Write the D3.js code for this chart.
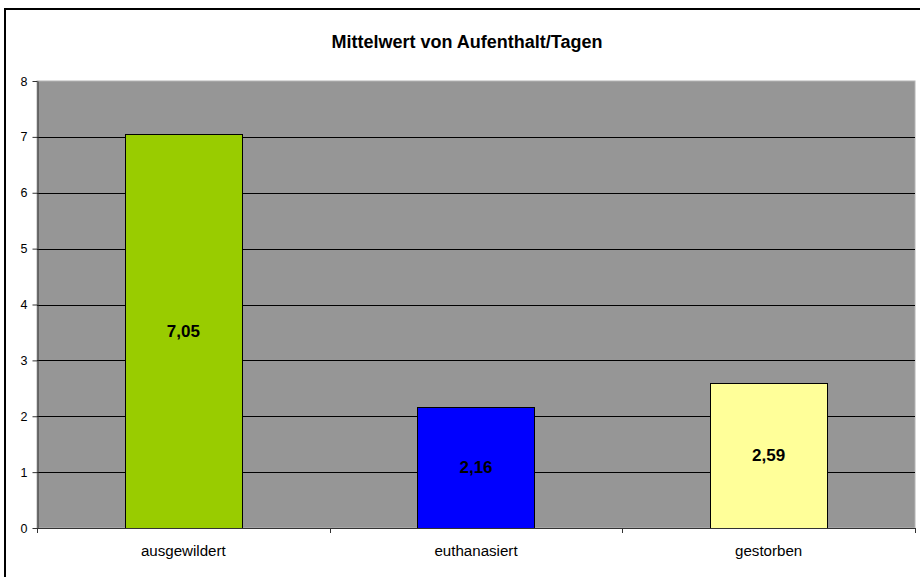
<!DOCTYPE html>
<html><head><meta charset="utf-8">
<script src="https://cdn.jsdelivr.net/npm/d3@7"></script>
<style>body{margin:0;background:#fff}svg{display:block}</style>
</head><body>
<svg id="c" width="920" height="577"></svg>
<script>
const categories = ["ausgewildert", "euthanasiert", "gestorben"];
const values = [7.05, 2.16, 2.59];
const labels = ["7,05", "2,16", "2,59"];
const colors = ["#99cc00", "#0000ff", "#ffff99"];
const yTicks = [0, 1, 2, 3, 4, 5, 6, 7, 8];
const title = "Mittelwert von Aufenthalt/Tagen";

const svg = d3.select("#c");
const font = "'Liberation Sans', Arial, sans-serif";
const L = 37, R = 915, T = 81, B = 528;

svg.append("rect").attr("x", 5).attr("y", 9).attr("width", 930).attr("height", 600)
  .attr("fill", "#fff").attr("stroke", "#000").attr("stroke-width", 2);

const x = d3.scaleBand().domain(categories).range([L, R]).paddingInner(0.6).paddingOuter(0.3);
const y = d3.scaleLinear().domain([0, 8]).range([B, T]);

svg.append("rect").attr("x", L).attr("y", T).attr("width", R - L).attr("height", B - T)
  .attr("fill", "#969696").attr("stroke", "#b4b4b4").attr("stroke-width", 1);

svg.append("g").selectAll("line").data(yTicks.filter(d => d > 0 && d < 8)).join("line")
  .attr("x1", L).attr("x2", R).attr("y1", d => Math.round(y(d)) + 0.5).attr("y2", d => Math.round(y(d)) + 0.5)
  .attr("stroke", "#000").attr("stroke-width", 1);

svg.append("text").attr("x", 467).attr("y", 48).attr("text-anchor", "middle")
  .attr("font-family", font).attr("font-weight", "bold").attr("font-size", 18).text(title);

svg.append("g").selectAll("rect").data(values).join("rect")
  .attr("x", (d, i) => Math.round(x(categories[i])) + 0.5)
  .attr("width", Math.round(x.bandwidth()))
  .attr("y", d => Math.round(y(d)) + 0.5)
  .attr("height", d => Math.round(y(0)) - Math.round(y(d)))
  .attr("fill", (d, i) => colors[i]).attr("stroke", "#000").attr("stroke-width", 1);

svg.append("g").selectAll("text").data(values).join("text")
  .attr("x", (d, i) => x(categories[i]) + x.bandwidth() / 2)
  .attr("y", d => (y(d) + y(0)) / 2 + 5.5)
  .attr("text-anchor", "middle").attr("font-family", font).attr("font-weight", "bold")
  .attr("font-size", 17).text((d, i) => labels[i]);

// y axis
const ya = svg.append("g").attr("transform", `translate(${L + 0.5},0)`)
  .call(d3.axisLeft(y).tickValues(yTicks).tickSize(5).tickPadding(5).tickSizeOuter(0));
ya.select(".domain").attr("stroke", "#333");
ya.selectAll(".tick line").attr("stroke", "#333");
ya.selectAll("text").attr("font-family", font).attr("font-size", 12.5).attr("fill", "#000");

// x axis
svg.append("line").attr("x1", L).attr("x2", R).attr("y1", B + 0.5).attr("y2", B + 0.5).attr("stroke", "#333");
const bounds = [0, 1, 2, 3].map(i => L + i * x.step());
svg.append("g").selectAll("line").data(bounds).join("line")
  .attr("x1", d => Math.round(d) + 0.5).attr("x2", d => Math.round(d) + 0.5)
  .attr("y1", B).attr("y2", B + 5).attr("stroke", "#333");
svg.append("g").selectAll("text").data(categories).join("text")
  .attr("transform", d => `translate(${x(d) + x.bandwidth() / 2},556) scale(1.08,1)`)
  .attr("text-anchor", "middle").attr("font-family", font).attr("font-size", 14).text(d => d);
</script>
</body></html>
